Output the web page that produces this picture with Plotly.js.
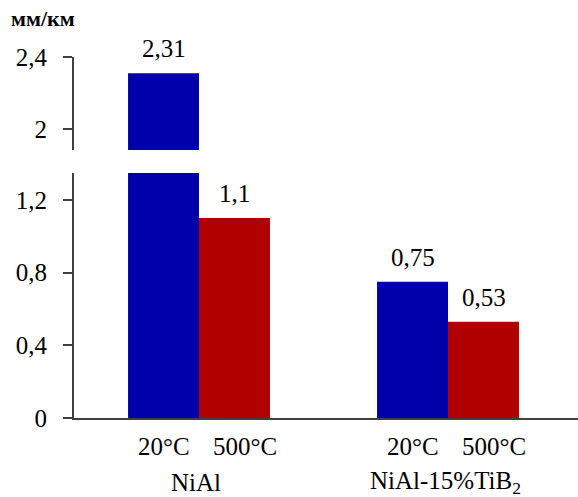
<!DOCTYPE html>
<html>
<head>
<meta charset="utf-8">
<script src="https://cdn.plot.ly/plotly-3.0.1.min.js"></script>
<style>
html,body{margin:0;padding:0;background:#fff}
#chart{width:578px;height:497px}
#chart .modebar-container{display:none !important}
</style>
</head>
<body>
<div id="chart"></div>
<script>
// Data
var groups = ['NiAl', 'NiAl-15%TiB<sub>2</sub>'];
var seriesNames = ['20°C', '500°C'];
var values20 = [2.31, 0.75];
var values500 = [1.1, 0.53];
var unitLabel = 'мм/км';
var lowerTicks = [0, 0.4, 0.8, 1.2];
var upperTicks = [2, 2.4];

// Styling
var FONT = 'Liberation Serif';
var BLUE = '#0000aa', RED = '#b00000';
var LOWER_MAX = 1.348, UPPER_MIN = 1.883, UPPER_MAX = 2.4;
var HALF = 35.5;

function fmt(v) { return String(v).replace('.', ','); }

var series = [values20, values500];
var colors = [BLUE, RED];
var traces = [];
['y', 'y2'].forEach(function (ax) {
  series.forEach(function (vals, i) {
    traces.push({
      type: 'bar', x: groups, y: vals, yaxis: ax, xaxis: 'x',
      marker: {color: colors[i], line: {width: 0}},
      showlegend: false, hoverinfo: 'skip'
    });
  });
});

var annotations = [];
series.forEach(function (vals, i) {
  var shift = i === 0 ? -HALF : HALF;
  vals.forEach(function (v, g) {
    annotations.push({
      xref: 'x', yref: v > LOWER_MAX ? 'y2' : 'y', x: g, y: v,
      xshift: shift, yshift: 9, yanchor: 'bottom', xanchor: 'center',
      text: fmt(v), showarrow: false, font: {family: FONT, size: 25, color: '#000'}
    });
    annotations.push({
      xref: 'x', yref: 'paper', x: g, y: 0,
      xshift: shift + (i === 0 ? 0 : 10), yshift: -28, yanchor: 'middle', xanchor: 'center',
      text: seriesNames[i], showarrow: false, font: {family: FONT, size: 25, color: '#000'}
    });
  });
});
groups.forEach(function (gname, g) {
  annotations.push({
    xref: 'x', yref: 'paper', x: g, y: 0, xshift: -3, yshift: -64,
    yanchor: 'middle', xanchor: 'center', text: gname, showarrow: false,
    font: {family: FONT, size: 25, color: '#000'}
  });
});
annotations.push({
  xref: 'paper', yref: 'paper', x: 0, y: 1, xshift: -65, yshift: 39,
  xanchor: 'left', yanchor: 'middle', text: '<b>' + unitLabel + '</b>', showarrow: false,
  font: {family: FONT, size: 22, color: '#000'}
});

var yCommon = {
  showline: true, linecolor: '#404040', linewidth: 2,
  ticks: 'outside', ticklen: 9, tickwidth: 2, tickcolor: '#404040',
  showgrid: false, zeroline: false, ticklabelstandoff: 11,
  tickfont: {family: FONT, size: 25, color: '#000'}, fixedrange: true
};

var layout = {
  width: 578, height: 497,
  margin: {l: 74, r: 0, t: 57, b: 79, pad: 0},
  paper_bgcolor: '#fff', plot_bgcolor: '#fff',
  separators: ', ',
  barmode: 'group', bargap: 0.43, bargroupgap: 0,
  font: {family: FONT, size: 25},
  xaxis: {
    type: 'category', range: [-0.502, 1.522], showline: true, linecolor: '#404040', linewidth: 2,
    showticklabels: false, ticks: '', showgrid: false, zeroline: false, anchor: 'y', fixedrange: true
  },
  yaxis: Object.assign({}, yCommon, {domain: [0, 0.6787], range: [0, LOWER_MAX], tickvals: lowerTicks, anchor: 'x'}),
  yaxis2: Object.assign({}, yCommon, {domain: [0.7424, 1], range: [UPPER_MIN, UPPER_MAX], tickvals: upperTicks, anchor: 'x'}),
  annotations: annotations
};

Plotly.newPlot('chart', traces, layout);
</script>
</body>
</html>
